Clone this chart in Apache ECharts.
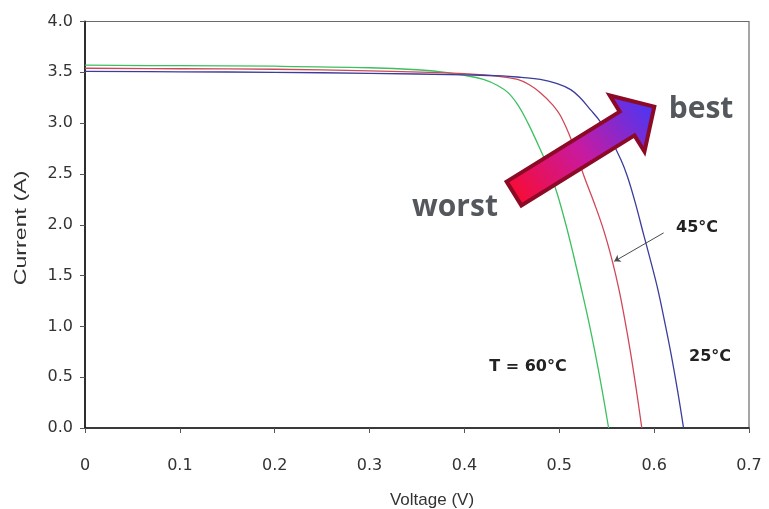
<!DOCTYPE html>
<html>
<head>
<meta charset="utf-8">
<script src="https://cdn.jsdelivr.net/npm/echarts@6/dist/echarts.min.js"></script>
<style>
html,body{margin:0;padding:0;background:#fff;}
#chart{width:769px;height:509px;}
</style>
</head>
<body>
<div id="chart"></div>
<script>
// ---- Data (Voltage V, Current A) ----
const seriesNames = ['T = 60°C', '45°C', '25°C'];
const curve60 = [[0,3.57],[0.1,3.565],[0.2,3.56],[0.3,3.545],[0.35,3.525],[0.38,3.50],[0.40,3.47],[0.42,3.43],[0.435,3.37],[0.446,3.30],[0.457,3.17],[0.467,3.00],[0.480,2.74],[0.490,2.52],[0.498,2.30],[0.507,2.00],[0.515,1.70],[0.523,1.38],[0.531,1.05],[0.538,0.73],[0.545,0.38],[0.552,0]];
const curve45 = [[0,3.54],[0.1,3.535],[0.2,3.53],[0.3,3.515],[0.38,3.495],[0.42,3.475],[0.44,3.455],[0.456,3.43],[0.468,3.38],[0.480,3.30],[0.492,3.19],[0.502,3.06],[0.515,2.78],[0.526,2.48],[0.537,2.21],[0.547,1.94],[0.556,1.64],[0.563,1.36],[0.569,1.07],[0.575,0.75],[0.581,0.39],[0.587,0]];
const curve25 = [[0,3.51],[0.1,3.505],[0.2,3.50],[0.3,3.49],[0.4,3.475],[0.44,3.465],[0.46,3.45],[0.480,3.43],[0.497,3.39],[0.512,3.33],[0.523,3.24],[0.533,3.13],[0.542,3.03],[0.551,2.90],[0.565,2.64],[0.572,2.47],[0.580,2.22],[0.589,1.90],[0.597,1.62],[0.604,1.36],[0.611,1.05],[0.618,0.72],[0.625,0.35],[0.631,0]];
const xTickLabels = ['0','0.1','0.2','0.3','0.4','0.5','0.6','0.7'];
const yTickLabels = ['0.0','0.5','1.0','1.5','2.0','2.5','3.0','3.5','4.0'];
const pointer45 = [[0.610,1.92],[0.558,1.64]];

const chart = echarts.init(document.getElementById('chart'), null, {renderer:'canvas'});

// big gradient arrow (decoration)
function arrowPoints(tail, tip, shaftHalf, headHalf, headBaseDist, len){
  const dx = tip[0]-tail[0], dy = tip[1]-tail[1];
  const d = Math.sqrt(dx*dx+dy*dy);
  const u = [dx/d, dy/d], n = [-u[1], u[0]];
  const P = (a,b)=>[tail[0]+u[0]*a+n[0]*b, tail[1]+u[1]*a+n[1]*b];
  return [P(0,-shaftHalf),P(headBaseDist,-shaftHalf),P(headBaseDist,-headHalf),P(len,0),P(headBaseDist,headHalf),P(headBaseDist,shaftHalf),P(0,shaftHalf)];
}
const arrowPts = arrowPoints([514,193.5],[657,105],14,33,133,165);

const lineColors = ['#3cc060','#d04858','#3c3c9c'];
const curves = [curve60, curve45, curve25];

const option = {
  backgroundColor:'#ffffff',
  animation:false,
  grid:{left:85,right:20,top:21.5,bottom:81,containLabel:false,outerBoundsMode:'none',
    show:true,borderColor:'#6a6a6a',borderWidth:1.2,backgroundColor:'transparent'},
  xAxis:{
    type:'value',min:0,max:0.7,interval:0.1,
    name:'Voltage (V)',nameLocation:'middle',nameGap:64,
    nameTextStyle:{fontFamily:'Liberation Sans',fontSize:17,color:'#333',padding:[0,0,0,30]},
    axisLine:{show:true,lineStyle:{color:'#111',width:1.5}},
    axisTick:{show:true,inside:false,length:5,lineStyle:{color:'#555'}},
    axisLabel:{margin:30,fontFamily:'DejaVu Sans',fontSize:16,color:'#333',
      formatter:(v)=>xTickLabels[Math.round(v*10)]},
    splitLine:{show:false}
  },
  yAxis:{
    type:'value',min:0,max:4,interval:0.5,
    axisLine:{show:true,lineStyle:{color:'#222',width:1.8}},
    axisTick:{show:true,inside:false,length:5,lineStyle:{color:'#555'}},
    axisLabel:{margin:12,fontFamily:'DejaVu Sans',fontSize:16,color:'#333',
      formatter:(v)=>yTickLabels[Math.round(v*2)]},
    splitLine:{show:false}
  },
  series: curves.map((c,i)=>({
    name:seriesNames[i],type:'line',data:c,showSymbol:false,
    smooth:0.4,
    lineStyle:{color:lineColors[i],width:1.3},
    z:3,
    markLine: i===1 ? {
      silent:true,symbol:['none','arrow'],symbolSize:6,
      label:{show:false},
      lineStyle:{color:'#4a4a4a',width:1,type:'solid'},
      data:[[{coord:pointer45[0]},{coord:pointer45[1]}]]
    } : undefined
  })),
  graphic:[
    {type:'text',x:22,y:228,rotation:Math.PI/2,scaleX:1.45,
      style:{text:'Current (A)',font:'16px "Liberation Sans"',fill:'#333',align:'center',verticalAlign:'middle'}},
    {type:'text',x:528,y:367,style:{text:'T = 60°C',font:'bold 16px "DejaVu Sans"',fill:'#222',align:'center',verticalAlign:'middle'}},
    {type:'text',x:710,y:357,style:{text:'25°C',font:'bold 16px "DejaVu Sans"',fill:'#222',align:'center',verticalAlign:'middle'}},
    {type:'text',x:697,y:228,style:{text:'45°C',font:'bold 16px "DejaVu Sans"',fill:'#222',align:'center',verticalAlign:'middle'}},
    {type:'text',x:455,y:207,style:{text:'worst',font:'bold 30px "Open Sans"',fill:'#54585d',align:'center',verticalAlign:'middle'}},
    {type:'text',x:701,y:109,style:{text:'best',font:'bold 30px "Open Sans"',fill:'#54585d',align:'center',verticalAlign:'middle'}},
    {type:'polygon',z:10,shape:{points:arrowPts},
      style:{fill:new echarts.graphic.LinearGradient(0,1,1,0,[
        {offset:0,color:'#ff0a22'},{offset:0.5,color:'#c81aa0'},{offset:1,color:'#3a3aff'}]),
        stroke:'#8c0a26',lineWidth:4,lineJoin:'miter'}}
  ]
};
chart.setOption(option);
</script>
</body>
</html>
